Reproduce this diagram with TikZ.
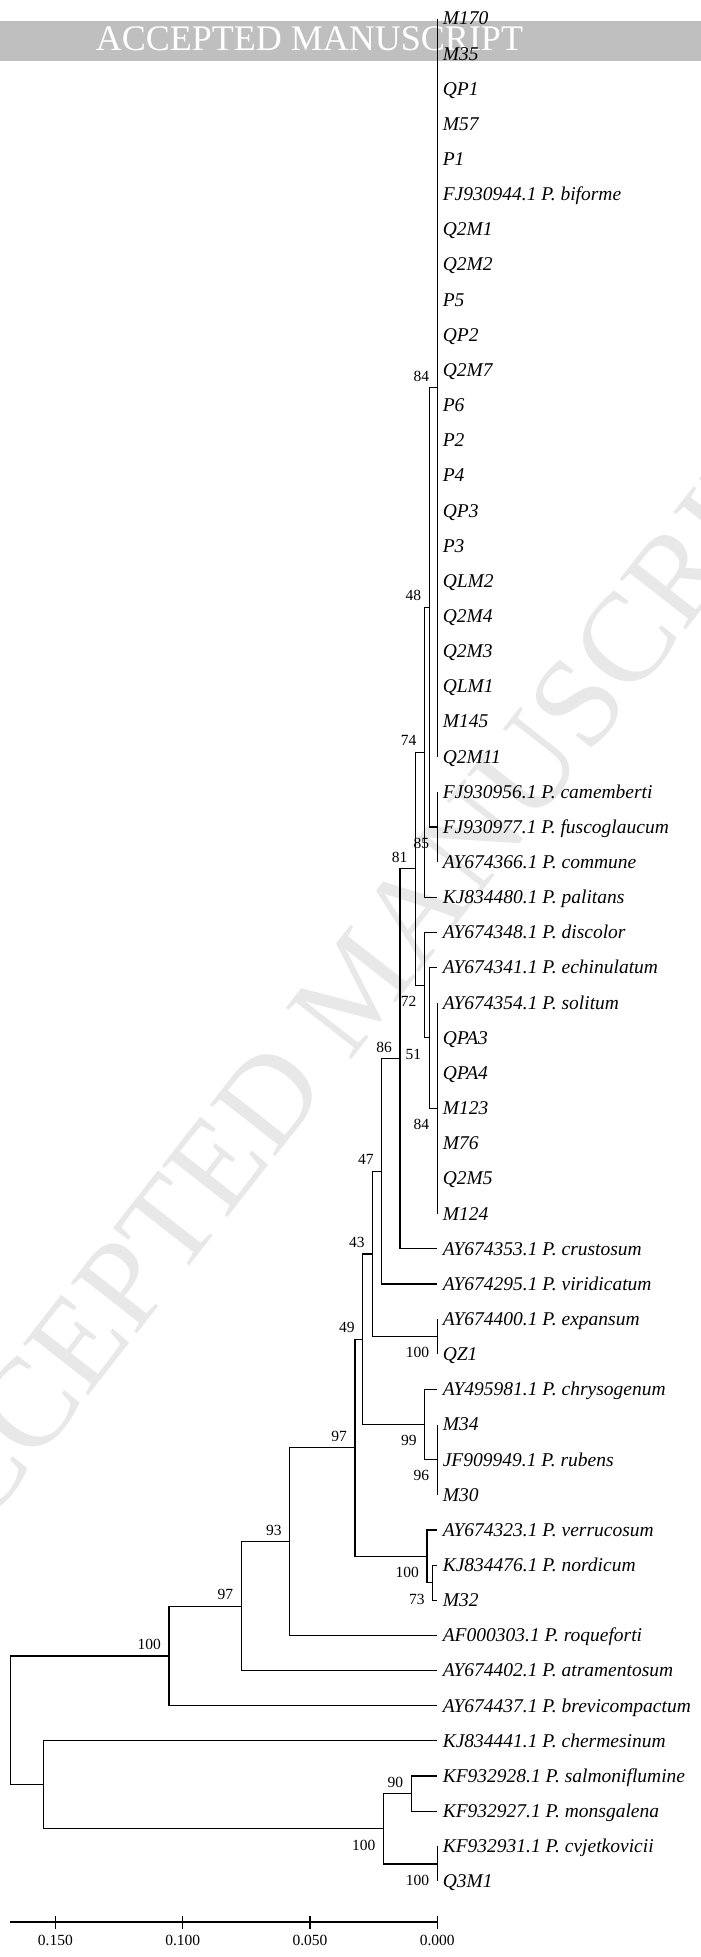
\documentclass[tikz,border=0pt]{standalone}
\usepackage{fontspec}
\setmainfont{Liberation Serif}
\tikzset{
  branch/.style={line width=1.2pt},
  taxon/.style={anchor=base west, xshift=5.3pt, yshift=-6.4pt, inner sep=0pt, font=\fontsize{19.5}{20}\selectfont\itshape},
  bootup/.style={anchor=base east, xshift=-8pt, yshift=6.5pt, inner sep=0pt, font=\fontsize{15.5}{16}\selectfont},
  bootdown/.style={anchor=base east, xshift=-8pt, yshift=-21.3pt, inner sep=0pt, font=\fontsize{15.5}{16}\selectfont},
  scalelabel/.style={anchor=base, yshift=-23.3pt, inner sep=0pt, font=\fontsize{15.5}{16}\selectfont},
}
\begin{document}
\begin{tikzpicture}[x=1pt, y=-1pt]
        \useasboundingbox (0,0) rectangle (701,1957);

        % Watermark
        \fill[gray!50] (0,20.7) rectangle (701,60.7);
        \node[text=white, font=\fontsize{36}{36}\selectfont, anchor=base, inner sep=0pt] (banner) at (309.5,50.7) {ACCEPTED MANUSCRIPT};
        \node[text=gray!18, font=\fontsize{127}{127}\selectfont, rotate=52, inner sep=0pt] (stamp) at (357,985) {ACCEPTED MANUSCRIPT};

        % Leaves
        \coordinate (l1) at (437.3,18.5);     \node[taxon] (t1) at (l1) {M170};
        \coordinate (l2) at (437.3,53.65);    \node[taxon] (t2) at (l2) {M35};
        \coordinate (l3) at (437.3,88.8);     \node[taxon] (t3) at (l3) {QP1};
        \coordinate (l4) at (437.3,123.95);   \node[taxon] (t4) at (l4) {M57};
        \coordinate (l5) at (437.3,159.1);    \node[taxon] (t5) at (l5) {P1};
        \coordinate (l6) at (437.3,194.25);   \node[taxon] (t6) at (l6) {FJ930944.1 P. biforme};
        \coordinate (l7) at (437.3,229.4);    \node[taxon] (t7) at (l7) {Q2M1};
        \coordinate (l8) at (437.3,264.55);   \node[taxon] (t8) at (l8) {Q2M2};
        \coordinate (l9) at (437.3,299.7);    \node[taxon] (t9) at (l9) {P5};
        \coordinate (l10) at (437.3,334.85);  \node[taxon] (t10) at (l10) {QP2};
        \coordinate (l11) at (437.3,370.0);   \node[taxon] (t11) at (l11) {Q2M7};
        \coordinate (l12) at (437.3,405.15);  \node[taxon] (t12) at (l12) {P6};
        \coordinate (l13) at (437.3,440.3);   \node[taxon] (t13) at (l13) {P2};
        \coordinate (l14) at (437.3,475.45);  \node[taxon] (t14) at (l14) {P4};
        \coordinate (l15) at (437.3,510.6);   \node[taxon] (t15) at (l15) {QP3};
        \coordinate (l16) at (437.3,545.75);  \node[taxon] (t16) at (l16) {P3};
        \coordinate (l17) at (437.3,580.9);   \node[taxon] (t17) at (l17) {QLM2};
        \coordinate (l18) at (437.3,616.05);  \node[taxon] (t18) at (l18) {Q2M4};
        \coordinate (l19) at (437.3,651.2);   \node[taxon] (t19) at (l19) {Q2M3};
        \coordinate (l20) at (437.3,686.35);  \node[taxon] (t20) at (l20) {QLM1};
        \coordinate (l21) at (437.3,721.5);   \node[taxon] (t21) at (l21) {M145};
        \coordinate (l22) at (437.3,756.65);  \node[taxon] (t22) at (l22) {Q2M11};
        \coordinate (l23) at (437.3,791.8);   \node[taxon] (t23) at (l23) {FJ930956.1 P. camemberti};
        \coordinate (l24) at (437.3,826.95);  \node[taxon] (t24) at (l24) {FJ930977.1 P. fuscoglaucum};
        \coordinate (l25) at (437.3,862.1);   \node[taxon] (t25) at (l25) {AY674366.1 P. commune};
        \coordinate (l26) at (437.3,897.25);  \node[taxon] (t26) at (l26) {KJ834480.1 P. palitans};
        \coordinate (l27) at (437.3,932.4);   \node[taxon] (t27) at (l27) {AY674348.1 P. discolor};
        \coordinate (l28) at (437.3,967.55);  \node[taxon] (t28) at (l28) {AY674341.1 P. echinulatum};
        \coordinate (l29) at (437.3,1002.7);  \node[taxon] (t29) at (l29) {AY674354.1 P. solitum};
        \coordinate (l30) at (437.3,1037.85); \node[taxon] (t30) at (l30) {QPA3};
        \coordinate (l31) at (437.3,1073.0);  \node[taxon] (t31) at (l31) {QPA4};
        \coordinate (l32) at (437.3,1108.15); \node[taxon] (t32) at (l32) {M123};
        \coordinate (l33) at (437.3,1143.3);  \node[taxon] (t33) at (l33) {M76};
        \coordinate (l34) at (437.3,1178.45); \node[taxon] (t34) at (l34) {Q2M5};
        \coordinate (l35) at (437.3,1213.6);  \node[taxon] (t35) at (l35) {M124};
        \coordinate (l36) at (437.3,1248.75); \node[taxon] (t36) at (l36) {AY674353.1 P. crustosum};
        \coordinate (l37) at (437.3,1283.9);  \node[taxon] (t37) at (l37) {AY674295.1 P. viridicatum};
        \coordinate (l38) at (437.3,1319.05); \node[taxon] (t38) at (l38) {AY674400.1 P. expansum};
        \coordinate (l39) at (437.3,1354.2);  \node[taxon] (t39) at (l39) {QZ1};
        \coordinate (l40) at (437.3,1389.35); \node[taxon] (t40) at (l40) {AY495981.1 P. chrysogenum};
        \coordinate (l41) at (437.3,1424.5);  \node[taxon] (t41) at (l41) {M34};
        \coordinate (l42) at (437.3,1459.65); \node[taxon] (t42) at (l42) {JF909949.1 P. rubens};
        \coordinate (l43) at (437.3,1494.8);  \node[taxon] (t43) at (l43) {M30};
        \coordinate (l44) at (437.3,1529.95); \node[taxon] (t44) at (l44) {AY674323.1 P. verrucosum};
        \coordinate (l45) at (437.3,1565.1);  \node[taxon] (t45) at (l45) {KJ834476.1 P. nordicum};
        \coordinate (l46) at (437.3,1600.25); \node[taxon] (t46) at (l46) {M32};
        \coordinate (l47) at (437.3,1635.4);  \node[taxon] (t47) at (l47) {AF000303.1 P. roqueforti};
        \coordinate (l48) at (437.3,1670.55); \node[taxon] (t48) at (l48) {AY674402.1 P. atramentosum};
        \coordinate (l49) at (437.3,1705.7);  \node[taxon] (t49) at (l49) {AY674437.1 P. brevicompactum};
        \coordinate (l50) at (437.3,1740.85); \node[taxon] (t50) at (l50) {KJ834441.1 P. chermesinum};
        \coordinate (l51) at (437.3,1776.0);  \node[taxon] (t51) at (l51) {KF932928.1 P. salmoniflumine};
        \coordinate (l52) at (437.3,1811.15); \node[taxon] (t52) at (l52) {KF932927.1 P. monsgalena};
        \coordinate (l53) at (437.3,1846.3);  \node[taxon] (t53) at (l53) {KF932931.1 P. cvjetkovicii};
        \coordinate (l54) at (437.3,1881.45); \node[taxon] (t54) at (l54) {Q3M1};

        % Inner nodes
        \coordinate (n84) at (437.3,387.6);
        \coordinate (n85) at (437.3,826.95);
        \coordinate (n48) at (429.3,607.3);
        \coordinate (n74) at (424.5,752.3);
        \coordinate (n84b) at (437.3,1108.15);
        \coordinate (n51) at (429.3,1037.85);
        \coordinate (n72) at (424.5,985.1);
        \coordinate (n81) at (415.5,868.7);
        \coordinate (n86) at (400,1058.7);
        \coordinate (n47) at (381.7,1171.3);
        \coordinate (n100a) at (437.3,1336.6);
        \coordinate (n43) at (372.7,1253.95);
        \coordinate (n96) at (437.3,1459.65);
        \coordinate (n99) at (424.7,1424.5);
        \coordinate (n49) at (362.7,1339.2);
        \coordinate (n73) at (432.7,1582.7);
        \coordinate (n100b) at (427,1556.3);
        \coordinate (n97a) at (355,1447.75);
        \coordinate (n93) at (289.7,1541.6);
        \coordinate (n97b) at (241.4,1606.1);
        \coordinate (n100c) at (169,1655.9);
        \coordinate (n90) at (411.3,1793.6);
        \coordinate (n100d) at (437.3,1863.9);
        \coordinate (n100e) at (383.6,1828.75);
        \coordinate (nch) at (43.4,1784.8);
        \coordinate (root) at (10.7,1720.35);

        % Draw branches
        \foreach \k in {1,...,22} \draw[branch] (n84) |- (l\k);
        \draw[branch] (n48) |- (n84) (n48) |- (n85);
        \draw[branch] (n85) |- (l23) (n85) |- (l24) (n85) |- (l25);
        \draw[branch] (n74) |- (n48) (n74) |- (l26);
        \draw[branch] (n81) |- (n74) (n81) |- (n72);
        \draw[branch] (n72) |- (l27) (n72) |- (n51);
        \draw[branch] (n51) |- (l28) (n51) |- (n84b);
        \foreach \k in {29,...,35} \draw[branch] (n84b) |- (l\k);
        \draw[branch] (n86) |- (n81) (n86) |- (l36);
        \draw[branch] (n47) |- (n86) (n47) |- (l37);
        \draw[branch] (n43) |- (n47) (n43) |- (n100a);
        \draw[branch] (n100a) |- (l38) (n100a) |- (l39);
        \draw[branch] (n49) |- (n43) (n49) |- (n99);
        \draw[branch] (n99) |- (l40) (n99) |- (n96);
        \draw[branch] (n96) |- (l41) (n96) |- (l42) (n96) |- (l43);
        \draw[branch] (n97a) |- (n49) (n97a) |- (n100b);
        \draw[branch] (n100b) |- (l44) (n100b) |- (n73);
        \draw[branch] (n73) |- (l45) (n73) |- (l46);
        \draw[branch] (n93) |- (n97a) (n93) |- (l47);
        \draw[branch] (n97b) |- (n93) (n97b) |- (l48);
        \draw[branch] (n100c) |- (n97b) (n100c) |- (l49);
        \draw[branch] (root) |- (n100c) (root) |- (nch);
        \draw[branch] (nch) |- (l50) (nch) |- (n100e);
        \draw[branch] (n100e) |- (n90) (n100e) |- (n100d);
        \draw[branch] (n90) |- (l51) (n90) |- (l52);
        \draw[branch] (n100d) |- (l53) (n100d) |- (l54);

        % Bootstrap values
        \node[bootup] (b84) at (n84) {84};
        \node[bootup] (b48) at (n48) {48};
        \node[bootup] (b74) at (n74) {74};
        \node[bootdown] (b85) at (n85) {85};
        \node[bootup] (b81) at (n81) {81};
        \node[bootdown] (b72) at (n72) {72};
        \node[bootdown] (b51) at (n51) {51};
        \node[bootdown] (b84b) at (n84b) {84};
        \node[bootup] (b86) at (n86) {86};
        \node[bootup] (b47) at (n47) {47};
        \node[bootup] (b43) at (n43) {43};
        \node[bootdown] (b100a) at (n100a) {100};
        \node[bootup] (b49) at (n49) {49};
        \node[bootdown] (b99) at (n99) {99};
        \node[bootdown] (b96) at (n96) {96};
        \node[bootup] (b97a) at (n97a) {97};
        \node[bootdown] (b100b) at (n100b) {100};
        \node[bootdown] (b73) at (n73) {73};
        \node[bootup] (b93) at (n93) {93};
        \node[bootup] (b97b) at (n97b) {97};
        \node[bootup] (b100c) at (n100c) {100};
        \node[bootup] (b90) at (n90) {90};
        \node[bootdown] (b100e) at (n100e) {100};
        \node[bootdown] (b100d) at (n100d) {100};

        % Scale bar
        \coordinate (send) at (10,1922);
        \coordinate (s150) at (55.4,1922);
        \coordinate (s100) at (182.7,1922);
        \coordinate (s50) at (310,1922);
        \coordinate (s0) at (437.3,1922);
        \draw[branch] (send) -- (s0);
        \draw[branch] ([yshift=6pt]s150) -- ([yshift=-7pt]s150);
        \draw[branch] ([yshift=6pt]s100) -- ([yshift=-7pt]s100);
        \draw[branch] ([yshift=6pt]s50) -- ([yshift=-7pt]s50);
        \draw[branch] ([yshift=6pt]s0) -- ([yshift=-7pt]s0);
        \node[scalelabel] (v150) at (s150) {0.150};
        \node[scalelabel] (v100) at (s100) {0.100};
        \node[scalelabel] (v50) at (s50) {0.050};
        \node[scalelabel] (v0) at (s0) {0.000};
    \end{tikzpicture}
\end{document}
